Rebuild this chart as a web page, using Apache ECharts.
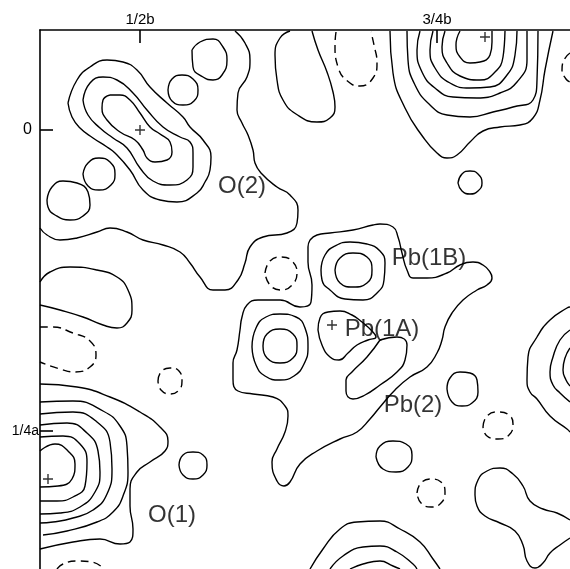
<!doctype html>
<html lang="en">
<head>
<meta charset="UTF-8">
<title>Difference Fourier map</title>
<script src="https://cdn.jsdelivr.net/npm/echarts@6/dist/echarts.min.js"></script>
<style>
  html, body { margin: 0; padding: 0; background: #fff; }
  #main { width: 570px; height: 569px; }
</style>
</head>
<body>
<div id="main"></div>
<script>
// axis ticks (map grid units, y grows downward along a)
var xTickValues = [140, 437];
var xTickNames = ['1/2b', '3/4b'];
var yTickValues = [130, 431];
var yTickNames = ['0', '1/4a'];

// atom labels and peak markers
var atomNames = ['O(2)', 'Pb(1B)', 'Pb(1A)', 'Pb(2)', 'O(1)'];
var atomPos = [[242, 186], [429, 258], [382, 329], [413, 405], [172, 515]];
var peakMarks = [[140, 130], [485, 37], [48, 479], [332, 325]];

var o2Ring1 = [[110,95],[103,100],[102,108],[107,120],[120,132],[135,140],[143,150],[147,158],[155,162],[167,160],[172,152],[170,142],[160,134],[150,127],[140,113],[130,100],[120,95],[110,95]];
var o2Ring2 = [[83,100],[88,115],[100,128],[113,138],[127,148],[140,168],[153,181],[170,185],[187,180],[193,167],[193,153],[190,142],[180,137],[163,127],[147,110],[133,93],[117,80],[103,77],[90,83],[83,100]];
var o2Ring3 = [[68,103],[72,117],[80,128],[93,138],[107,147],[115,153],[130,170],[143,190],[160,200],[177,202],[197,193],[205,182],[210,170],[211,157],[203,140],[190,127],[183,117],[167,103],[150,87],[137,70],[123,62],[107,60],[90,67],[77,80],[68,103]];
var o2Outer = [[235,31],[245,43],[250,60],[247,77],[238,93],[237,110],[242,123],[248,135],[253,150],[255,163],[262,174],[277,187],[290,195],[298,210],[297,223],[287,233],[263,237],[250,247],[245,263],[238,280],[225,290],[213,290],[200,277],[190,263],[180,252],[163,245],[143,240],[127,232],[110,228],[97,232],[77,238],[60,240],[47,235],[40,228]];
var smallA = [[192,50],[200,42],[213,39],[223,47],[227,60],[222,75],[213,80],[203,77],[193,67],[192,50]];
var smallB = [[168,90],[172,79],[182,75],[193,79],[198,90],[194,101],[183,105],[172,101],[168,90]];
var smallC = [[83,174],[88,163],[99,158],[110,162],[115,174],[111,185],[99,190],[88,186],[83,174]];
var smallD = [[47,200],[52,187],[63,181],[77,183],[88,192],[90,205],[83,216],[70,220],[55,215],[48,207],[47,200]];
var smallE = [[458,183],[462,174],[470,171],[478,174],[482,183],[478,191],[470,194],[462,191],[458,183]];
var topLobe = [[290,31],[280,38],[275,55],[277,80],[283,100],[296,114],[317,122],[330,118],[335,107],[333,92],[327,72],[318,50],[312,31]];
var pk1 = [[460,31],[456,45],[460,57],[470,63],[480,62],[490,55],[492,42],[492,31]];
var pk2 = [[445,31],[442,47],[447,63],[460,76],[480,80],[495,72],[503,57],[505,31]];
var pk3 = [[433,31],[430,50],[435,68],[450,83],[470,88],[490,87],[507,75],[515,55],[517,31]];
var pk4 = [[420,31],[417,50],[422,72],[435,88],[453,97],[477,98],[500,93],[517,82],[527,60],[527,31]];
var pk5 = [[407,31],[408,60],[415,85],[430,105],[447,115],[470,117],[493,112],[513,107],[533,100],[537,80],[538,31]];
var pk6 = [[390,31],[393,73],[405,108],[423,137],[437,153],[447,158],[457,155],[470,142],[483,131],[500,127],[520,125],[533,118],[540,100],[545,70],[553,31]];
var leftLobe = [[40,282],[50,272],[70,267],[97,270],[117,277],[128,290],[132,310],[127,323],[117,328],[103,325],[83,317],[60,310],[40,305]];
var pbOuter = [[310,240],[317,235],[330,233],[353,230],[373,225],[380,224],[393,227],[398,237],[402,253],[407,270],[413,278],[427,278],[447,273],[460,265],[473,262],[483,265],[490,272],[492,278],[487,285],[477,290],[463,300],[452,313],[445,327],[442,340],[437,353],[427,367],[410,377],[395,390],[380,407],[370,419],[357,432],[340,439],[317,451],[300,464],[290,482],[284,486],[277,481],[272,462],[277,449],[285,432],[288,416],[285,406],[273,397],[253,394],[238,391],[233,379],[233,363],[237,350],[240,330],[242,317],[247,305],[258,300],[280,300],[300,307],[311,302],[312,285],[308,262],[308,247],[310,240]];
var pb1bOuter = [[321,270],[325,255],[335,246],[350,242],[367,244],[380,251],[385,263],[384,280],[378,292],[363,300],[345,299],[330,290],[322,280],[321,270]];
var pb1bInner = [[335,270],[340,258],[353,253],[367,257],[372,270],[367,283],[353,287],[340,283],[335,270]];
var pb1aRingOuter = [[252,347],[256,328],[266,317],[280,314],[296,317],[305,328],[308,347],[304,364],[294,376],[280,380],[265,376],[256,365],[252,347]];
var pb1aRingInner = [[263,346],[267,334],[280,329],[293,334],[297,346],[293,358],[280,363],[267,358],[263,346]];
var pb1aBlob = [[318,330],[320,318],[328,312],[340,311],[352,315],[362,322],[372,331],[376,337],[368,340],[357,345],[348,353],[339,360],[330,357],[322,345],[318,330]];
var pb2Ring = [[380,340],[397,337],[407,345],[405,360],[397,372],[380,385],[365,395],[353,399],[346,391],[346,380],[352,372],[367,357],[380,340]];
var smallN = [[447,389],[450,378],[460,372],[470,373],[477,380],[478,392],[472,403],[462,406],[452,402],[447,389]];
var smallO = [[376,457],[380,446],[393,441],[406,444],[412,455],[408,467],[396,472],[383,469],[376,457]];
var smallS = [[179,465],[183,455],[193,452],[203,455],[207,465],[203,475],[193,479],[183,475],[179,465]];
var rightPk1 = [[570,307],[567,308],[550,320],[537,337],[528,357],[527,380],[530,392],[537,399],[550,416],[567,429],[570,432]];
var rightPk2 = [[570,330],[560,340],[553,357],[550,372],[553,385],[560,393],[570,402]];
var rightPk3 = [[570,348],[565,358],[563,370],[566,380],[570,386]];
var o1Ring1 = [[40,451],[55,444],[68,451],[75,464],[72,479],[58,486],[40,487]];
var o1Ring2 = [[40,437],[63,436],[80,444],[87,462],[85,486],[73,497],[57,501],[40,501]];
var o1Ring3 = [[40,425],[67,423],[87,433],[98,451],[100,472],[95,492],[80,507],[60,513],[40,514]];
var o1Ring4 = [[40,414],[73,412],[97,422],[110,442],[112,469],[107,494],[93,510],[73,518],[53,522],[40,523]];
var o1Ring5 = [[40,402],[73,401],[103,411],[120,426],[127,446],[128,472],[123,496],[113,512],[97,522],[67,531],[43,535]];
var o1Ring6 = [[40,384],[77,387],[110,397],[140,412],[160,427],[168,441],[165,451],[150,462],[137,472],[130,489],[130,506],[133,529],[130,542],[120,544],[100,539],[73,542],[40,549]];
var dumbbell = [[570,520],[557,513],[543,509],[530,501],[523,486],[513,474],[500,468],[487,471],[478,480],[475,495],[477,506],[485,516],[500,523],[515,531],[523,545],[527,561],[535,568],[543,563],[550,553],[560,545],[570,538]];
var bottomArc1 = [[310,569],[323,549],[340,529],[357,522],[380,521],[400,529],[420,542],[433,559],[440,569]];
var bottomArc2 = [[330,569],[343,556],[363,547],[380,546],[397,552],[413,564],[417,569]];
var bottomArc3 = [[350,569],[363,564],[380,561],[393,566],[400,569]];

// negative contours (dashed)
var negTop = [[336,32],[335,45],[338,67],[350,83],[360,86],[373,78],[377,63],[374,45],[371,32]];
var negTopRight = [[570,53],[564,60],[562,70],[566,79],[570,82]];
var negMid = [[265,273],[270,261],[281,257],[292,261],[297,273],[292,285],[281,290],[270,285],[265,273]];
var negLeft = [[40,327],[52,327],[73,333],[90,341],[96,355],[90,367],[75,372],[60,369],[40,362]];
var negR = [[158,381],[161,372],[170,368],[179,371],[182,381],[179,390],[170,394],[161,390],[158,381]];
var negP = [[483,427],[487,416],[498,412],[509,415],[513,424],[509,435],[498,439],[487,436],[483,427]];
var negQ = [[417,493],[421,483],[431,479],[441,482],[445,492],[441,503],[431,507],[421,503],[417,493]];
var negBottom = [[57,569],[63,564],[77,561],[92,562],[104,569]];

var solidLines = [o2Ring1, o2Ring2, o2Ring3, o2Outer, smallA, smallB, smallC, smallD, smallE, topLobe,
    pk1, pk2, pk3, pk4, pk5, pk6, leftLobe, pbOuter, pb1bOuter, pb1bInner, pb1aRingOuter, pb1aRingInner,
    pb1aBlob, pb2Ring, smallN, smallO, smallS, rightPk1, rightPk2, rightPk3,
    o1Ring1, o1Ring2, o1Ring3, o1Ring4, o1Ring5, o1Ring6, dumbbell, bottomArc1, bottomArc2, bottomArc3];
var dashedLines = [negTop, negTopRight, negMid, negLeft, negR, negP, negQ, negBottom];

var myChart = echarts.init(document.getElementById('main'));

function contour(pts, type) {
    return {
        type: 'line',
        data: pts,
        smooth: 0.5,
        symbol: 'none',
        silent: true,
        clip: true,
        lineStyle: { color: '#000', width: 1.4, type: type }
    };
}

var series = [];
solidLines.forEach(function (d) { series.push(contour(d, 'solid')); });
dashedLines.forEach(function (d) { series.push(contour(d, [8, 5])); });

// the little + at peak maxima
series.push({
    type: 'scatter',
    data: peakMarks,
    symbol: 'path://M4.3,0H5.7V10H4.3ZM0,4.3H10V5.7H0Z',
    symbolSize: 10,
    itemStyle: { color: '#000' },
    silent: true
});

// atom names
series.push({
    type: 'scatter',
    data: atomPos.map(function (p, i) { return { value: p, name: atomNames[i] }; }),
    symbolSize: 1,
    itemStyle: { color: 'rgba(0,0,0,0)' },
    silent: true,
    label: {
        show: true,
        position: 'inside',
        formatter: '{b}',
        color: '#000',
        fontSize: 24,
        fontFamily: 'Liberation Sans, Arial, sans-serif'
    }
});

var axisFont = 'Liberation Sans, Arial, sans-serif';

myChart.setOption({
    animation: false,
    backgroundColor: '#fff',
    grid: { left: 40, top: 30, right: 0, bottom: 0 },
    xAxis: {
        type: 'value',
        position: 'top',
        min: 40,
        max: 570,
        splitLine: { show: false },
        axisLine: { show: true, onZero: false, lineStyle: { color: '#000', width: 1.6 } },
        axisTick: { show: true, inside: true, length: 13, customValues: xTickValues, lineStyle: { color: '#000', width: 1.6 } },
        axisLabel: {
            customValues: xTickValues,
            formatter: function (v) { return xTickNames[xTickValues.indexOf(v)]; },
            color: '#000', fontSize: 15, margin: 3, fontFamily: axisFont
        }
    },
    yAxis: {
        type: 'value',
        inverse: true,
        position: 'left',
        min: 30,
        max: 569,
        splitLine: { show: false },
        axisLine: { show: true, onZero: false, lineStyle: { color: '#000', width: 1.6 } },
        axisTick: { show: true, inside: true, length: 13, customValues: yTickValues, lineStyle: { color: '#000', width: 1.6 } },
        axisLabel: {
            customValues: yTickValues,
            color: '#000',
            fontSize: 15,
            fontFamily: axisFont,
            formatter: function (v) {
                var i = yTickValues.indexOf(v);
                return i === 0 ? '{z|' + yTickNames[i] + '}' : '{q|' + yTickNames[i] + '}';
            },
            rich: {
                z: { fontSize: 16, color: '#000', fontFamily: axisFont, padding: [0, 7, 0, 0] },
                q: { fontSize: 14, color: '#000', fontFamily: axisFont }
            },
            margin: 1
        }
    },
    series: series
});
</script>
</body>
</html>
